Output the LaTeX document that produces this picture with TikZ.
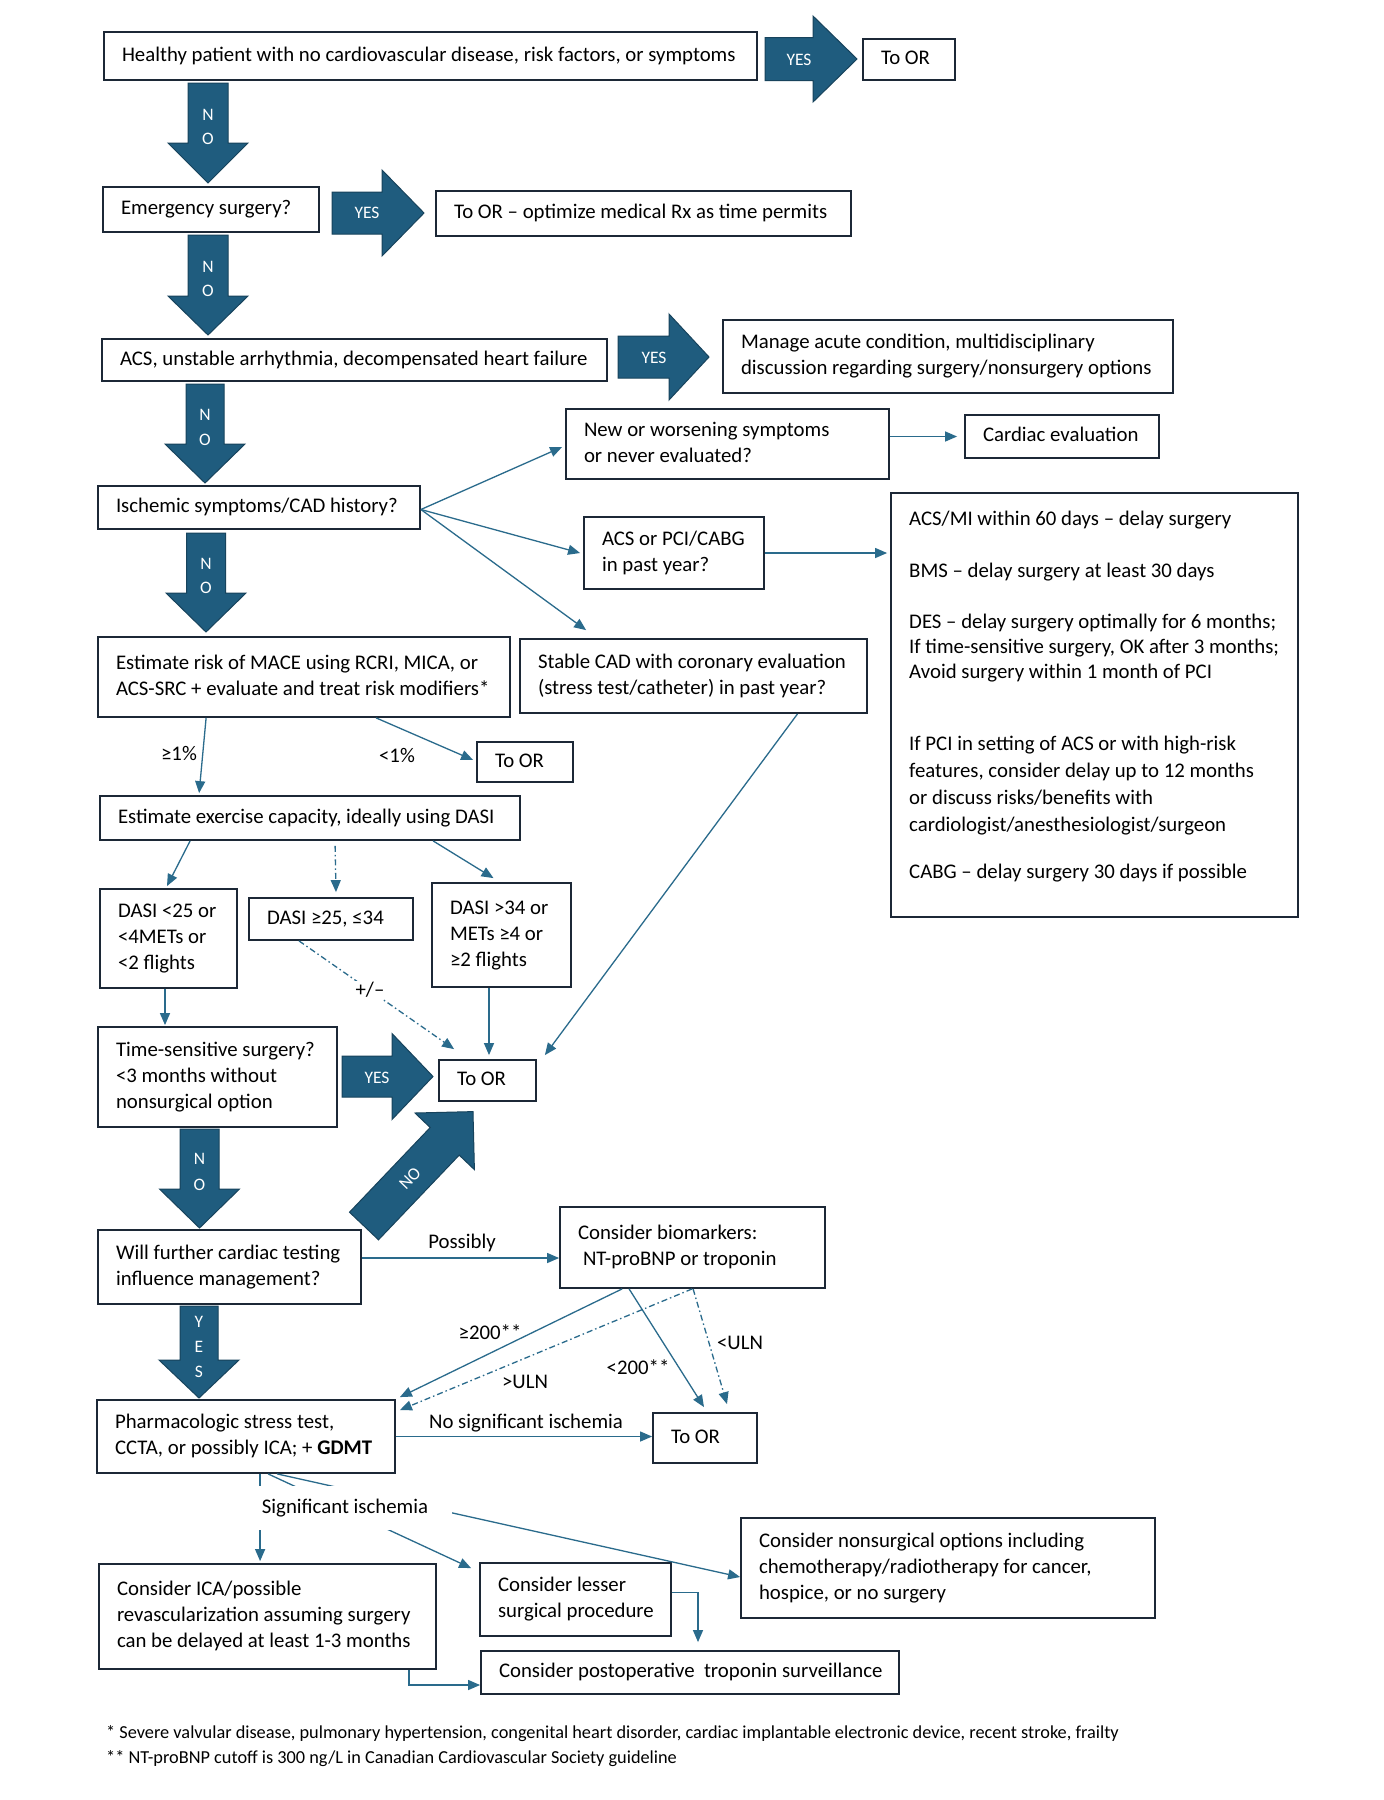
\documentclass[tikz,border=0pt]{standalone}
\usepackage{fontspec}
\setmainfont{Carlito}
\usetikzlibrary{arrows.meta}
\definecolor{boxc}{HTML}{1C2836}
\definecolor{afill}{HTML}{1F5C7E}
\definecolor{adraw}{HTML}{17435C}
\definecolor{linec}{HTML}{2A6B8C}
\tikzset{
 box/.style={draw=boxc, line width=1.8pt, fill=white, inner xsep=18pt, inner ysep=1pt, font=\fontsize{20.8}{26}\selectfont},
 bigarrow/.style={fill=afill, draw=adraw, line width=1pt, line join=miter},
 arr/.style={draw=linec, line width=1.3pt, -{Triangle[length=12pt,width=10pt]}},
 dd/.style={dash pattern=on 6pt off 3pt on 1.5pt off 3pt},
 lbl/.style={font=\fontsize{20.8}{26}\selectfont, inner sep=1pt},
 alab/.style={text=white, font=\fontsize{17.5}{20}\selectfont, inner sep=0pt},
 foot/.style={font=\fontsize{18.3}{20}\selectfont, anchor=west, inner sep=0pt},
}
\newcommand\mkbox[6]{%
 \pgfmathsetmacro\mybw{#4-#2}\pgfmathsetmacro\mybh{#5-#3}\pgfmathsetmacro\mytw{#4-#2-36}%
 \node[box, minimum width=\mybw pt, minimum height=\mybh pt] (#1) at ({(#2+#4)/2},{(#3+#5)/2}) {\makebox[\mytw pt][l]{\begin{tabular}{@{}l@{}}#6\end{tabular}}};}
\newcommand\dblk[6]{\filldraw[bigarrow] (#1-#5,#2) -- (#1+#5,#2) -- (#1+#5,#3) -- (#1+#6,#3) -- (#1,#4) -- (#1-#6,#3) -- (#1-#5,#3) -- cycle;}
\newcommand\rblk[6]{\filldraw[bigarrow] (#1,#4-#5) -- (#2,#4-#5) -- (#2,#4-#6) -- (#3,#4) -- (#2,#4+#6) -- (#2,#4+#5) -- (#1,#4+#5) -- cycle;}
\begin{document}
\begin{tikzpicture}[x=1pt,y=-1pt]
\fill[white] (0,0) rectangle (1384,1800);
\useasboundingbox (0,0) rectangle (1384,1800);

% row 1
\mkbox{top}{104}{32}{757}{80}{Healthy patient with no cardiovascular disease, risk factors, or symptoms}
\rblk{765}{813}{857}{59}{21.5}{43}
\node[alab] (yes1) at (799,60) {YES};
\mkbox{toor1}{863}{39}{955}{80}{To OR}
\dblk{208}{83}{143}{183}{20}{40}
\node[alab] (no1n) at (208,115) {N};
\node[alab] (no1o) at (208,139) {O};

% row 2
\mkbox{emerg}{103}{187}{319}{232}{Emergency surgery?}
\rblk{332}{382}{424}{213}{21}{43}
\node[alab] (yes2) at (367,213) {YES};
\mkbox{optim}{436}{191}{851}{236}{To OR – optimize medical Rx as time permits}
\dblk{208}{235}{296}{335}{20}{40}
\node[alab] (no2n) at (208,267) {N};
\node[alab] (no2o) at (208,291) {O};

% row 3
\mkbox{acs}{102}{339}{607}{381}{ACS, unstable arrhythmia, decompensated heart failure}
\rblk{618}{669}{709}{357}{21}{43}
\node[alab] (yes3) at (654,358) {YES};
\mkbox{manage}{723}{320}{1173}{393}{Manage acute condition, multidisciplinary\\discussion regarding surgery/nonsurgery options}
\dblk{205}{384}{444}{483}{19}{40}
\node[alab] (no3n) at (205,415) {N};
\node[alab] (no3o) at (205,440) {O};

% ischemic
\mkbox{newsym}{566}{409}{889}{479}{New or worsening symptoms\\or never evaluated?}
\mkbox{cardiac}{965}{415}{1159}{458}{Cardiac evaluation}
\mkbox{isch}{98}{486}{420}{529}{Ischemic symptoms/CAD history?}
\dblk{206}{533}{593}{632}{19.5}{40}
\node[alab] (no4n) at (206,564) {N};
\node[alab] (no4o) at (206,588) {O};
\mkbox{acspci}{584}{517}{764}{589}{ACS or PCI/CABG\\in past year?}
\mkbox{big}{891}{493}{1298}{917}{}
\node[lbl, anchor=base west, inner sep=0pt] (bb1) at (909,525) {ACS/MI within 60 days – delay surgery};
\node[lbl, anchor=base west, inner sep=0pt] (bb2) at (909,577) {BMS – delay surgery at least 30 days};
\node[lbl, anchor=base west, inner sep=0pt] (bb3) at (909,628) {DES – delay surgery optimally for 6 months;};
\node[lbl, anchor=base west, inner sep=0pt] (bb4) at (909,653) {If time-sensitive surgery, OK after 3 months;};
\node[lbl, anchor=base west, inner sep=0pt] (bb5) at (909,678) {Avoid surgery within 1 month of PCI};
\node[lbl, anchor=base west, inner sep=0pt] (bb6) at (909,750) {If PCI in setting of ACS or with high-risk};
\node[lbl, anchor=base west, inner sep=0pt] (bb7) at (909,777) {features, consider delay up to 12 months};
\node[lbl, anchor=base west, inner sep=0pt] (bb8) at (909,804) {or discuss risks/benefits with};
\node[lbl, anchor=base west, inner sep=0pt] (bb9) at (909,831) {cardiologist/anesthesiologist/surgeon};
\node[lbl, anchor=base west, inner sep=0pt] (bb10) at (909,878) {CABG – delay surgery 30 days if possible};

\mkbox{risk}{98}{637}{510}{717}{Estimate risk of MACE using RCRI, MICA, or\\ACS-SRC + evaluate and treat risk modifiers*}
\mkbox{stable}{520}{639}{867}{713}{Stable CAD with coronary evaluation\\(stress test/catheter) in past year?}
\mkbox{toor2}{477}{742}{573}{782}{To OR}
\mkbox{exer}{100}{796}{520}{840}{Estimate exercise capacity, ideally using DASI}
\mkbox{dasia}{100}{889}{237}{988}{DASI <25 or\\<4METs or\\<2 flights}
\mkbox{dasib}{249}{898}{413}{940}{DASI ≥25, ≤34}
\mkbox{dasic}{432}{883}{571}{987}{DASI >34 or\\METs ≥4 or\\≥2 flights}
\mkbox{time}{98}{1027}{337}{1127}{Time-sensitive surgery?\\<3 months without\\nonsurgical option}
\mkbox{toor3}{439}{1060}{536}{1101}{To OR}
\rblk{342}{392}{433}{1076.5}{20.5}{43}
\node[alab] (yes4) at (377,1078) {YES};
\dblk{199.5}{1129}{1189}{1228}{19.5}{40}
\node[alab] (no5n) at (199.5,1159) {N};
\node[alab] (no5o) at (199.5,1185) {O};
\mkbox{will}{98}{1230}{361}{1304}{Will further cardiac testing\\influence management?}
\filldraw[bigarrow] (349.5,1212.2) -- (430.2,1127.5) -- (415.0,1113.0) -- (473.0,1111.6) -- (474.4,1169.6) -- (459.2,1155.1) -- (378.5,1239.8) -- cycle;
\node[alab, rotate=46] (no6) at (410,1178) {NO};
\mkbox{bio}{560}{1207}{825}{1288}{Consider biomarkers:\\\hspace*{5pt}NT-proBNP or troponin}
\dblk{199}{1306}{1360}{1398}{19}{40}
\node[alab] (yesy) at (199,1322) {Y};
\node[alab] (yese) at (199,1347) {E};
\node[alab] (yess) at (199,1372) {S};
\mkbox{pharm}{97}{1400}{395}{1473}{Pharmacologic stress test,\\CCTA, or possibly ICA; + \textbf{GDMT}}
\mkbox{toor4}{653}{1413}{757}{1463}{To OR}
\mkbox{ica}{99}{1564}{436}{1669}{Consider ICA/possible\\revascularization assuming surgery\\can be delayed at least 1-3 months}
\mkbox{lesser}{480}{1563}{671}{1636}{Consider lesser\\surgical procedure}
\mkbox{nonsurg}{741}{1518}{1155}{1618}{Consider nonsurgical options including\\chemotherapy/radiotherapy for cancer,\\hospice, or no surgery}
\mkbox{postop}{481}{1651}{899}{1694}{Consider postoperative\ \ troponin surveillance}

% thin connectors
\draw[arr] (newsym.east |- cardiac.west) -- ([xshift=-7pt]cardiac.west);
\draw[arr] ([yshift=-2pt]isch.east) -- ([xshift=-3pt,yshift=-3pt]newsym.west);
\draw[arr] ([yshift=-2pt]isch.east) -- ([xshift=-3pt]acspci.west);
\draw[arr] ([yshift=-2pt]isch.east) -- ([xshift=67pt,yshift=8pt]stable.north west);
\draw[arr] (acspci.east) -- ([xshift=-3pt]acspci.east -| big.west);
\draw[arr] ([xshift=109pt]risk.south west) -- ([xshift=100pt,yshift=2pt]exer.north west);
\draw[arr] ([xshift=279pt]risk.south west) -- ([xshift=-3pt,yshift=2pt]toor2.west);
\node[lbl] (l1) at (179,753) {≥1\%};
\node[lbl] (l2) at (397,755) {<1\%};
\draw[arr] ([xshift=91pt]exer.south west) -- ([xshift=-1.5pt,yshift=2pt]dasia.north);
\draw[arr,dd] ([xshift=236pt,yshift=-5pt]exer.south west) -- ([xshift=5pt,yshift=5pt]dasib.north);
\draw[arr] ([xshift=334pt]exer.south west) -- ([xshift=-8pt,yshift=4pt]dasic.north);
\draw[arr] ([xshift=-3.5pt]dasia.south) -- ([xshift=-3.5pt,yshift=1pt]dasia.south |- time.north);
\draw[arr,dd] ([xshift=-32pt]dasib.south) -- ([xshift=16pt,yshift=10pt]toor3.north west);
\node[lbl, fill=white] (pm) at (370,990) {+/–};
\draw[arr] ([xshift=1.5pt]toor3.north |- dasic.south) -- ([xshift=1.5pt,yshift=4pt]toor3.north);
\draw[arr] ([xshift=104pt]stable.south) -- ([xshift=8pt,yshift=4pt]toor3.north east);
\draw[arr] ([yshift=9pt]will.east) -- ([yshift=9pt]will.east -| bio.west);
\node[lbl] (poss) at (462,1243) {Possibly};
\draw[arr] ([xshift=63pt]bio.south west) -- ([xshift=4pt,yshift=2pt]pharm.north east);
\draw[arr,dd] ([xshift=133pt]bio.south west) -- ([xshift=4pt,yshift=-11pt]pharm.north east);
\draw[arr] ([xshift=70pt]bio.south west) -- ([xshift=-1pt,yshift=5pt]toor4.north);
\draw[arr,dd] ([xshift=134pt]bio.south west) -- ([xshift=22pt,yshift=8pt]toor4.north);
\node[lbl] (g200) at (490,1332) {≥200**};
\node[lbl] (guln) at (525,1382) {>ULN};
\node[lbl] (l200) at (638,1367) {<200**};
\node[lbl] (luln) at (740,1343) {<ULN};
\draw[arr] (pharm.east) -- (pharm.east -| toor4.west);
\node[lbl] (nsi) at (526,1423) {No significant ischemia};
\draw[arr] ([xshift=164pt]pharm.south west) -- ([xshift=162pt,yshift=2pt]ica.north west);
\draw[arr] ([xshift=172pt]pharm.south west) -- ([xshift=-8pt,yshift=-6pt]lesser.north west);
\draw[arr] ([xshift=181pt]pharm.south west) -- ([yshift=-9pt]nonsurg.west);
\node[lbl, fill=white, minimum width=197pt, minimum height=44pt] (sig) at (353,1508) {\kern-16pt Significant ischemia};
\draw[arr] ([yshift=7pt]lesser.east) -| ([xshift=8pt,yshift=8pt]postop.north);
\draw[arr] ([xshift=-28pt]ica.south east) |- ([yshift=-12.5pt]postop.west);

% footnotes
\node[foot] (fn1) at (106,1734) {* Severe valvular disease, pulmonary hypertension, congenital heart disorder, cardiac implantable electronic device, recent stroke, frailty};
\node[foot] (fn2) at (106,1759) {** NT-proBNP cutoff is 300 ng/L in Canadian Cardiovascular Society guideline};
\end{tikzpicture}
\end{document}
